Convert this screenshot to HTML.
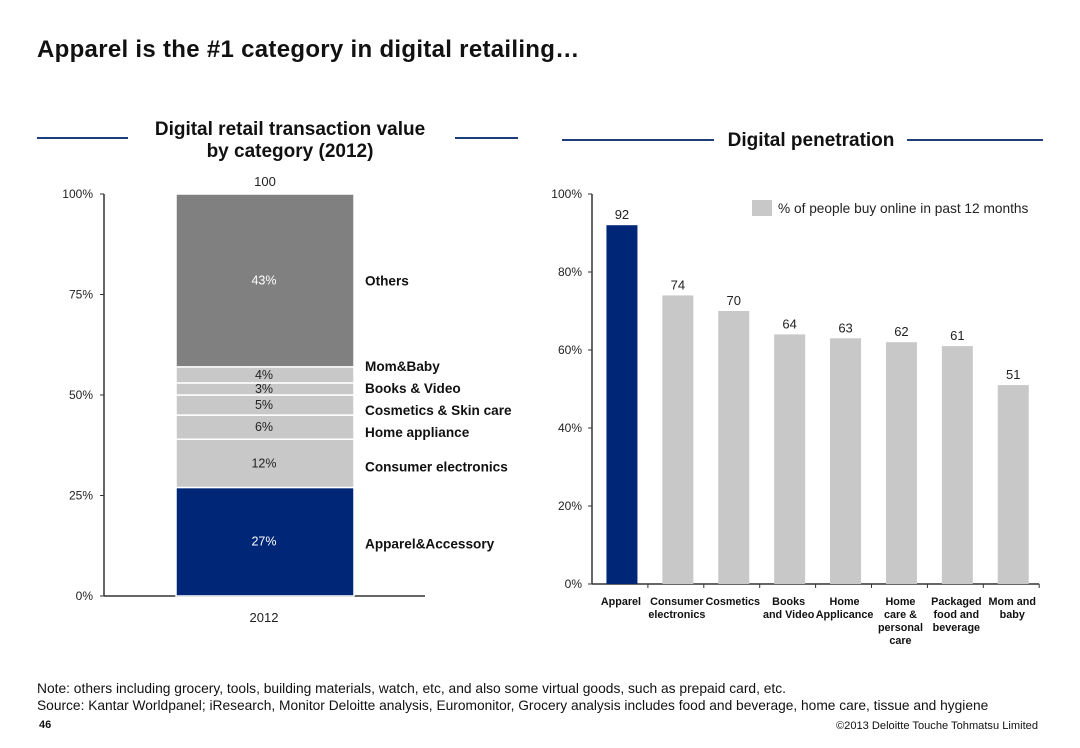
<!DOCTYPE html>
<html><head><meta charset="utf-8">
<style>
body{margin:0;background:#fff;font-family:"Liberation Sans",Arial,sans-serif;}
#root{position:relative;width:1080px;height:748px;overflow:hidden;background:#fff}
svg text{font-family:"Liberation Sans",Arial,sans-serif}
</style></head><body>
<div id="root">
<svg id="svg" width="1080" height="748" viewBox="0 0 1080 748">
<text x="37" y="57" font-size="24" font-weight="bold" letter-spacing="0.3" fill="#111">Apparel is the #1 category in digital retailing…</text>
<line x1="37" y1="138" x2="128" y2="138" stroke="#1f3d7a" stroke-width="2"/>
<line x1="455" y1="138" x2="518" y2="138" stroke="#1f3d7a" stroke-width="2"/>
<text x="290" y="135" font-size="19" font-weight="bold" text-anchor="middle" fill="#111">Digital retail transaction value</text>
<text x="290" y="157" font-size="19" font-weight="bold" text-anchor="middle" fill="#111">by category (2012)</text>
<line x1="562" y1="140" x2="714" y2="140" stroke="#1f3d7a" stroke-width="2"/>
<line x1="907" y1="140" x2="1043" y2="140" stroke="#1f3d7a" stroke-width="2"/>
<text x="811" y="146" font-size="19" font-weight="bold" text-anchor="middle" fill="#111">Digital penetration</text>
<g id="left"></g>
<g id="right"></g>
<text x="37" y="693" font-size="13.8" fill="#111">Note:  others including grocery, tools, building materials, watch, etc, and also some virtual goods, such as prepaid card, etc.</text>
<text x="37" y="710" font-size="13.75" fill="#111">Source: Kantar Worldpanel; iResearch, Monitor Deloitte analysis, Euromonitor, Grocery analysis includes food and beverage, home care, tissue and hygiene</text>
<text x="39" y="728" font-size="11" font-weight="bold" fill="#111">46</text>
<text x="1038" y="729" font-size="11.1" text-anchor="end" fill="#111">©2013 Deloitte Touche Tohmatsu Limited</text>
</svg>
</div>
<script>
const segNames=["Apparel&Accessory","Consumer electronics","Home appliance","Cosmetics & Skin care","Books & Video","Mom&Baby","Others"];
const segValues=[27,12,6,5,3,4,43];
const leftTicks=[0,25,50,75,100];
const barCats=[["Apparel"],["Consumer","electronics"],["Cosmetics"],["Books","and Video"],["Home","Applicance"],["Home","care &","personal","care"],["Packaged","food and","beverage"],["Mom and","baby"]];
const barValues=[92,74,70,64,63,62,61,51];
const rightTicks=[0,20,40,60,80,100];

const NS="http://www.w3.org/2000/svg";
function mk(p,tag,a,txt){const e=document.createElementNS(NS,tag);for(const k in a)e.setAttribute(k,a[k]);if(txt!=null)e.textContent=txt;p.appendChild(e);return e;}
const L=document.getElementById('left');
const ly=v=>596-v*4.02;
let ax=mk(L,'line',{x1:104,y1:194,x2:104,y2:596,stroke:'#333','stroke-width':1.5});

ax=mk(L,'line',{x1:104,y1:596,x2:425,y2:596,stroke:'#333','stroke-width':1.5});

leftTicks.forEach(t=>{
 const tl=mk(L,'text',{x:93,y:ly(t)+4,'font-size':12,'text-anchor':'end',fill:'#222'},t+'%');
 
 mk(L,'line',{x1:100,y1:ly(t),x2:104,y2:ly(t),stroke:'#333'});
});
let cum=0;
const fills=['#002677','#c8c8c8','#c8c8c8','#c8c8c8','#c8c8c8','#c8c8c8','#808080'];
const labelShift=[7,8,10,10,4,-4,5];
segValues.forEach((v,i)=>{
 const y0=ly(cum),y1=ly(cum+v);
 const r=mk(L,'rect',{x:176,y:y1,width:178,height:y0-y1,fill:fills[i],stroke:'#fff','stroke-width':1.5});
 
 
 const my=(y0+y1)/2;
 const t=mk(L,'text',{x:264,y:my+4,'font-size':12.5,'text-anchor':'middle',fill:(i==0||i==6)?'#fff':'#222'},v+'%');
 
 const n=mk(L,'text',{x:365,y:my+labelShift[i],'font-size':13.6,'font-weight':'bold',fill:'#111'},segNames[i]);
 
 cum+=v;
});
let tt=mk(L,'text',{x:265,y:186,'font-size':13,'text-anchor':'middle',fill:'#222'},String(cum));

tt=mk(L,'text',{x:264,y:622,'font-size':13,'text-anchor':'middle',fill:'#222'},'2012');

const R=document.getElementById('right');
const ry=v=>584-v*3.9;
const x0=592,slot=55.9;
ax=mk(R,'line',{x1:x0,y1:194,x2:x0,y2:584,stroke:'#333','stroke-width':1.5});

ax=mk(R,'line',{x1:x0,y1:584,x2:x0+slot*barValues.length,y2:584,stroke:'#333','stroke-width':1.5});

rightTicks.forEach(t=>{
 const tl=mk(R,'text',{x:582,y:ry(t)+4,'font-size':12,'text-anchor':'end',fill:'#222'},t+'%');
 
 mk(R,'line',{x1:588,y1:ry(t),x2:x0,y2:ry(t),stroke:'#333'});
});
barValues.forEach((v,i)=>{
 const cx=x0+slot*(i+0.5)+2;
 mk(R,'line',{x1:x0+slot*(i+1),y1:584,x2:x0+slot*(i+1),y2:588,stroke:'#333'});
 const b=mk(R,'rect',{x:cx-15.5,y:ry(v),width:31,height:584-ry(v),fill:i==0?'#002677':'#c8c8c8'});
 
 
 const t=mk(R,'text',{x:cx,y:ry(v)-6,'font-size':13,'text-anchor':'middle',fill:'#222'},String(v));
 
 barCats[i].forEach((ln,j)=>{
  const c=mk(R,'text',{x:cx-1,y:605+j*13,'font-size':10.8,'font-weight':'bold','text-anchor':'middle',fill:'#111'},ln);
  
 });
});
let lg=mk(R,'rect',{x:752,y:200,width:20,height:16,fill:'#c8c8c8'});

lg=mk(R,'text',{x:778,y:213,'font-size':13.7,fill:'#222'},'% of people buy online in past 12 months');

</script>
</body></html>
